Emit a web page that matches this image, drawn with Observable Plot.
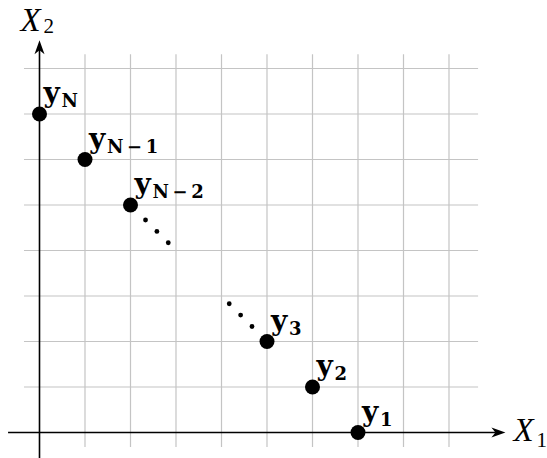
<!DOCTYPE html>
<html>
<head>
<meta charset="utf-8">
<script src="https://cdn.jsdelivr.net/npm/d3@7"></script>
<script src="https://cdn.jsdelivr.net/npm/@observablehq/plot@0.6"></script>
<style>
  html, body { margin: 0; padding: 0; background: #fff; }
</style>
</head>
<body>
<div id="chart"></div>
<script>
// Points y_N ... y_1 on the (X1, X2) grid
const pointX = [0, 1, 2, 5, 6, 7];
const pointY = [7, 6, 5, 2, 1, 0];
const pointSub = ["N", "N\u2009\u2212\u20091", "N\u2009\u2212\u20092", "3", "2", "1"];

// Ellipsis dots between y_{N-2} and y_3
const ellipsisX = [2.33, 2.58, 2.83, 4.17, 4.42, 4.67];
const ellipsisY = [4.67, 4.42, 4.17, 2.83, 2.58, 2.33];

// Grid lines (integer positions) and their extent
const gridXs = [1, 2, 3, 4, 5, 6, 7, 8, 9];
const gridYs = [1, 2, 3, 4, 5, 6, 7, 8];
const gridXRange = [-0.33, 9.65];
const gridYRange = [-0.33, 8.3];

// Axis extents (ends are the arrow tips)
const axisXRange = [-0.68, 10.24];
const axisYRange = [-0.6, 8.62];

const points = pointX.map((x, i) => ({x, y: pointY[i], sub: pointSub[i]}));
const ellipsis = ellipsisX.map((x, i) => ({x, y: ellipsisY[i]}));

// Stealth-style arrowhead, tip at the origin, pointing up
const stealth = {
  draw(context) {
    context.moveTo(0, 0);
    context.lineTo(5, 14);
    context.lineTo(0, 10);
    context.lineTo(-5, 14);
    context.closePath();
  }
};

const W = 547, H = 458, unit = 45.5, ox = 39, oy = 432;

const chart = Plot.plot({
  width: W,
  height: H,
  margin: 0,
  x: {domain: [-ox / unit, (W - ox) / unit], axis: null},
  y: {domain: [(oy - H) / unit, oy / unit], axis: null},
  marks: [
    // help-line grid
    Plot.ruleX(gridXs, {x: d => d, y1: gridYRange[0], y2: gridYRange[1], stroke: "#c4c4c4", strokeWidth: 1.2}),
    Plot.ruleY(gridYs, {y: d => d, x1: gridXRange[0], x2: gridXRange[1], stroke: "#c4c4c4", strokeWidth: 1.2}),
    // axes
    Plot.ruleY([0], {x1: axisXRange[0], x2: axisXRange[1] - 0.2, stroke: "black", strokeWidth: 1.6}),
    Plot.ruleX([0], {y1: axisYRange[0], y2: axisYRange[1] - 0.2, stroke: "black", strokeWidth: 1.6}),
    Plot.dot([{x: axisXRange[1], y: 0}], {x: "x", y: "y", symbol: stealth, rotate: 90, fill: "black"}),
    Plot.dot([{x: 0, y: axisYRange[1]}], {x: "x", y: "y", symbol: stealth, rotate: 0, fill: "black"}),
    // axis labels X_1 and X_2
    Plot.text([{x: axisXRange[1], y: 0}], {x: "x", y: "y", text: () => "X", lineAnchor: "bottom", textAnchor: "start",
      dx: 8, dy: 8, fontFamily: "Liberation Serif", fontStyle: "italic", fontSize: 33, fill: "black"}),
    Plot.text([{x: axisXRange[1], y: 0}], {x: "x", y: "y", text: () => "1", lineAnchor: "bottom", textAnchor: "start",
      dx: 31, dy: 14, fontFamily: "Liberation Serif", fontSize: 21, fill: "black"}),
    Plot.text([{x: 0, y: axisYRange[1]}], {x: "x", y: "y", text: () => "X", lineAnchor: "bottom", textAnchor: "start",
      dx: -19, dy: -9, fontFamily: "Liberation Serif", fontStyle: "italic", fontSize: 33, fill: "black"}),
    Plot.text([{x: 0, y: axisYRange[1]}], {x: "x", y: "y", text: () => "2", lineAnchor: "bottom", textAnchor: "start",
      dx: 4, dy: -7, fontFamily: "Liberation Serif", fontSize: 21, fill: "black"}),
    // ellipsis
    Plot.dot(ellipsis, {x: "x", y: "y", r: 2.4, fill: "black"}),
    // points
    Plot.dot(points, {x: "x", y: "y", r: 7.5, fill: "black"}),
    // point labels: bold y with subscript
    Plot.text(points, {x: "x", y: "y", text: () => "y", lineAnchor: "bottom", textAnchor: "start",
      dx: 4, dy: -12, fontFamily: "DejaVu Serif", fontWeight: "bold", fontSize: 28, fill: "black"}),
    Plot.text(points, {x: "x", y: "y", text: "sub", lineAnchor: "bottom", textAnchor: "start",
      dx: 22, dy: -7, fontFamily: "DejaVu Serif", fontWeight: "bold", fontSize: 18, fill: "black"})
  ]
});

document.getElementById("chart").appendChild(chart);
</script>
</body>
</html>
